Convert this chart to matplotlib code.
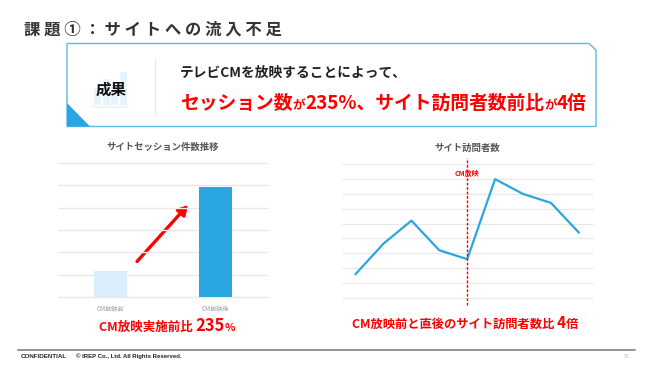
#%%
import numpy as np
from matplotlib import pyplot as plt
from matplotlib.patches import Polygon, Rectangle
plt.rcParams['font.family'] = ['Noto Sans CJK JP', 'DejaVu Sans']

W, H = 650, 365

bar_labels = ['CM放映前', 'CM放映後']
bar_values = [1.16, 4.94]
visit_x = [0, 1, 2, 3, 4, 5, 6, 7, 8]
visit_values = [1.6, 3.65, 5.2, 3.2, 2.6, 8.0, 7.0, 6.4, 4.4]
cm_index = 4
icon_heights = [17, 26, 20, 33]

blue, light_blue, frame_blue = '#29a6e0', '#d9eefa', '#5bbcea'
red, dark, grid_c = '#ff0000', '#333333', '#e8e8e8'


def px(size):
    return size * 0.72


def add_axes_px(x0, x1, y0, y1):
    # x0..x1 and y0 (top)..y1 (bottom) in image pixels
    return fig.add_axes([x0 / W, 1 - y1 / H, (x1 - x0) / W, (y1 - y0) / H])


def text_runs(x, y, runs, color=red):
    # runs of different sizes on one baseline, one after another
    r = fig.canvas.get_renderer()
    for s, size in runs:
        t = bg.text(x, y, s, color=color, fontsize=px(size), fontweight='bold', ha='left', va='baseline')
        x += t.get_window_extent(r).width


fig = plt.figure(figsize=(W / 100, H / 100), dpi=100)

# slide background layer in pixel coordinates
bg = fig.add_axes([0, 0, 1, 1], zorder=0)
bg.set_xlim(0, W)
bg.set_ylim(H, 0)
bg.axis('off')

bg.text(24, 30, '課 題 ① ： サ イ ト へ の 流 入 不 足', fontsize=px(16.4), fontweight='bold', color=dark, va='center')

box = [(67, 43.5), (589, 43.5), (596, 50), (596, 126.5), (67, 126.5)]
bg.add_patch(Polygon(box, closed=True, facecolor='white', edgecolor=frame_blue, lw=1))
bg.add_patch(Polygon([(67, 103), (90, 126.5), (67, 126.5)], closed=True, facecolor=blue, edgecolor='none'))
bg.plot([154.5, 154.5], [59, 114], color='#d5ebf7', lw=0.8)

# icon behind the label
for i, h_ in enumerate(icon_heights):
    bg.add_patch(Rectangle((94 + i * 8.6, 105 - h_), 7, h_, facecolor='#e6f4fc', edgecolor='none'))
bg.plot([93, 128], [106.5, 106.5], color='#e6f4fc', lw=1.2)
bg.text(111, 89.5, '成果', fontsize=px(15.5), fontweight='bold', color='#111111', ha='center', va='center')

bg.text(179.5, 73, 'テレビCMを放映することによって、', fontsize=px(13.7), fontweight='bold', color='#222222', va='center')
text_runs(180, 109, [('セッション数', 18.8), ('が', 12.5), ('235%、サイト訪問者数前比', 18.8), ('が', 12.5), ('4倍', 18.8)])

# left chart
ax1 = add_axes_px(58, 268, 163, 297)
ax1.bar(range(len(bar_values)), bar_values, width=0.314, color=[light_blue, blue], zorder=3)
ax1.set_xlim(-0.5, 1.5)
ax1.set_ylim(0, 6)
ax1.set_xticks(range(len(bar_labels)))
ax1.set_xticklabels(bar_labels, fontsize=px(6.2), color='#999999')
ax1.set_yticks(range(7))
ax1.set_yticklabels([])
ax1.grid(axis='y', color=grid_c, lw=1)
for g in ax1.get_ygridlines():
    g.set_clip_on(False)
    g.set_solid_capstyle('butt')
ax1.set_axisbelow(True)
ax1.tick_params(length=0, pad=5)
for s in ax1.spines.values():
    s.set_visible(False)
ax1.patch.set_alpha(0)

bg.text(162.7, 146.5, 'サイトセッション件数推移', fontsize=px(9.4), fontweight='bold', color='#555555', ha='center', va='center')
bg.annotate('', xy=(188, 205), xytext=(137, 261.5),
            arrowprops=dict(arrowstyle='-|>,head_width=0.32,head_length=0.55', color=red, lw=2.4, shrinkA=0, shrinkB=0))
text_runs(99, 331, [('CM放映実施前比 ', 12.5), ('235', 16.5), ('%', 11)])

# right chart
ax2 = add_axes_px(341.7, 592.7, 164.3, 297.7)
ax2.plot(visit_x, visit_values, color=blue, lw=1.6, zorder=3)
ax2.set_xlim(-0.5, 8.5)
ax2.set_ylim(0, 9)
ax2.set_xticks([])
ax2.set_yticks(range(10))
ax2.set_yticklabels([])
ax2.grid(axis='y', color=grid_c, lw=0.9)
for g in ax2.get_ygridlines():
    g.set_clip_on(False)
    g.set_solid_capstyle('butt')
ax2.set_axisbelow(True)
ax2.tick_params(length=0)
for s in ax2.spines.values():
    s.set_visible(False)
ax2.patch.set_alpha(0)
ax2.plot([visit_x[cm_index]] * 2, [-0.5, 9.44], color=red, lw=1, ls=(0, (2, 1.2)), clip_on=False, zorder=4)
ax2.text(visit_x[cm_index], 8.4, 'CM放映', color=red, fontsize=px(7), fontweight='bold', ha='center', va='center', zorder=2)

bg.text(467, 148, 'サイト訪問者数', fontsize=px(9.4), fontweight='bold', color='#555555', ha='center', va='center')
text_runs(352, 328, [('CM放映前と直後のサイト訪問者数比 ', 12.3), ('4', 15.6), ('倍', 12.3)])

# footer
bg.plot([18, 635], [349.5, 349.5], color='#777777', lw=1.1)
bg.text(20.5, 356, 'CONFIDENTIAL', fontsize=px(6.3), fontweight='bold', color='#222222', family='Liberation Sans', va='center')
bg.text(76.5, 356, '© IREP Co., Ltd. All Rights Reserved.', fontsize=px(6), fontweight='bold', color='#222222', family='Liberation Sans', va='center')
bg.text(627, 356, '55', fontsize=px(4.8), color='#bbbbbb', ha='center', va='center')

fig.savefig('out.png', dpi=100)
